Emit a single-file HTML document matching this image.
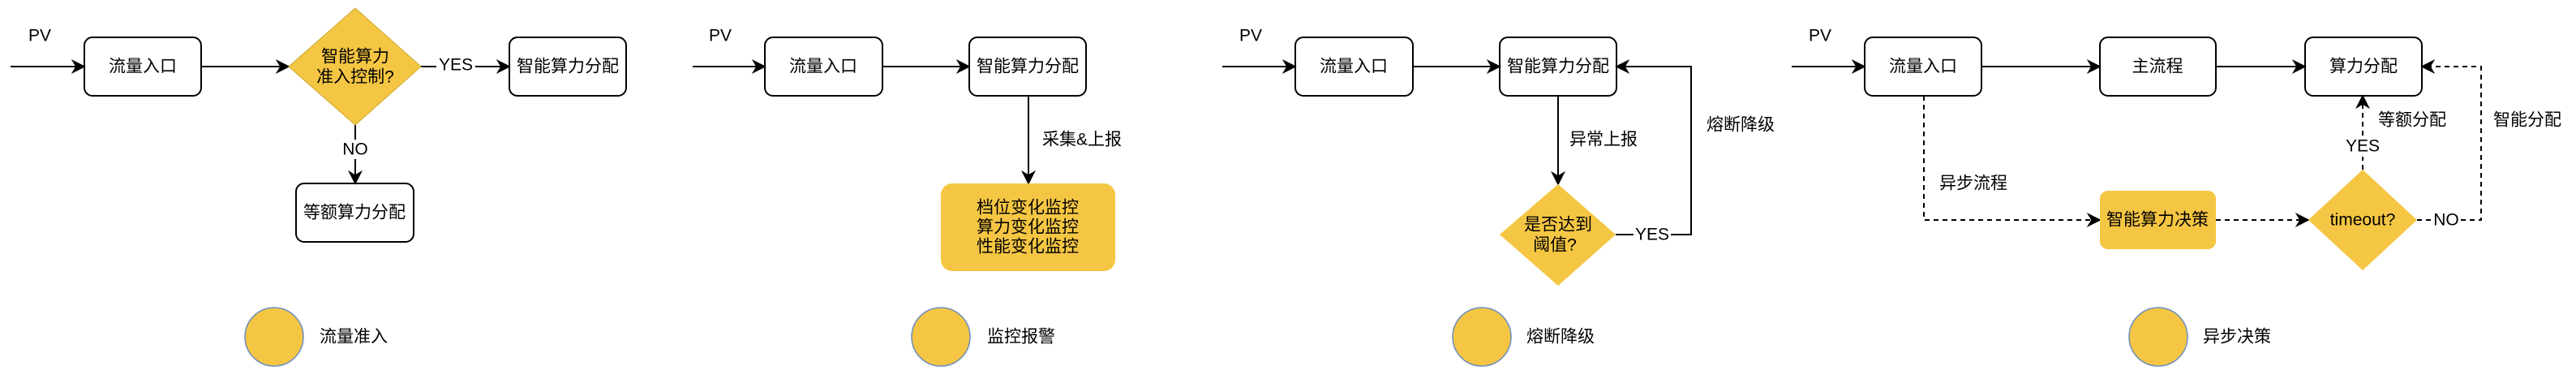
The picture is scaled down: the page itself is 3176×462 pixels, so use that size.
<!DOCTYPE html>
<html><head><meta charset="utf-8"><style>
html,body{margin:0;padding:0;background:#fff}
svg{display:block}
text{font-family:"Liberation Sans","Noto Sans CJK SC",sans-serif;font-size:21px;fill:#000}
</style></head><body>
<svg width="3176" height="462" viewBox="0 0 3176 462" xmlns="http://www.w3.org/2000/svg">
<defs>
<marker id="A" viewBox="0 0 10 10" refX="9" refY="5" markerWidth="18" markerHeight="18" markerUnits="userSpaceOnUse" orient="auto">
<path d="M0,0 L10,5 L0,10 L3,5 Z" fill="#000"/></marker>
</defs>
<g stroke="#000" stroke-width="2" fill="none">
<line x1="13" y1="82" x2="104" y2="82" marker-end="url(#A)"/>
<line x1="248" y1="82" x2="356" y2="82" marker-end="url(#A)"/>
<line x1="519" y1="82" x2="538" y2="82"/>
<line x1="586" y1="82" x2="628" y2="82" marker-end="url(#A)"/>
<line x1="438" y1="154" x2="438" y2="172"/>
<line x1="438" y1="196" x2="438" y2="226" marker-end="url(#A)"/>
<rect x="104" y="46" width="144" height="72" rx="10"/>
<rect x="628" y="46" width="144" height="72" rx="10"/>
<rect x="365" y="226" width="145" height="72" rx="10"/>
<line x1="854" y1="82" x2="943" y2="82" marker-end="url(#A)"/>
<line x1="1088" y1="82" x2="1195" y2="82" marker-end="url(#A)"/>
<line x1="1268" y1="118" x2="1268" y2="226" marker-end="url(#A)"/>
<rect x="943" y="46" width="145" height="72" rx="10"/>
<rect x="1195" y="46" width="144" height="72" rx="10"/>
<line x1="1507" y1="82" x2="1597" y2="82" marker-end="url(#A)"/>
<line x1="1742" y1="82" x2="1849" y2="82" marker-end="url(#A)"/>
<line x1="1921" y1="118" x2="1921" y2="227" marker-end="url(#A)"/>
<line x1="1992" y1="289" x2="2014" y2="289"/>
<polyline points="2060,289 2085,289 2085,82 1993,82" marker-end="url(#A)"/>
<rect x="1597" y="46" width="145" height="72" rx="10"/>
<rect x="1849" y="46" width="144" height="72" rx="10"/>
<line x1="2209" y1="82" x2="2299" y2="82" marker-end="url(#A)"/>
<line x1="2443" y1="82" x2="2589" y2="82" marker-end="url(#A)"/>
<line x1="2732" y1="82" x2="2842" y2="82" marker-end="url(#A)"/>
<rect x="2299" y="46" width="144" height="72" rx="10"/>
<rect x="2589" y="46" width="143" height="72" rx="10"/>
<rect x="2842" y="46" width="144" height="72" rx="10"/>
<g stroke-dasharray="6,5">
<polyline points="2372,118 2372,271 2589,271" marker-end="url(#A)"/>
<line x1="2732" y1="271" x2="2846" y2="271" marker-end="url(#A)"/>
<line x1="2913" y1="209" x2="2913" y2="193"/>
<line x1="2913" y1="167" x2="2913" y2="118" marker-end="url(#A)"/>
<line x1="2980" y1="271" x2="2998" y2="271"/>
<polyline points="3034,271 3059,271 3059,82 2986,82" marker-end="url(#A)"/>
</g>
</g>
<polygon points="438,10 519,82 438,154 356,82" fill="#f5c643" stroke="#c9a82a" stroke-width="1"/>
<rect x="1160" y="226" width="215" height="108" rx="14" fill="#f5c643"/>
<polygon points="1921,227 1992,289 1921,352 1849,289" fill="#f5c643"/>
<rect x="2589" y="235" width="143" height="72" rx="10" fill="#f5c643"/>
<polygon points="2913,209 2980,271 2913,333 2846,271" fill="#f5c643"/>
<g fill="#f5c643" stroke="#6c8ebf" stroke-width="1.5">
<ellipse cx="338" cy="415" rx="36" ry="36"/>
<ellipse cx="1160" cy="415" rx="36" ry="36"/>
<ellipse cx="1827" cy="415" rx="36" ry="36"/>
<ellipse cx="2661" cy="415" rx="36" ry="36"/>
</g>
<g text-anchor="middle" dominant-baseline="central">
<text x="176" y="82">流量入口</text>
<text x="438" y="70">智能算力</text>
<text x="438" y="95">准入控制?</text>
<text x="562" y="80">YES</text>
<text x="700" y="82">智能算力分配</text>
<text x="438" y="184">NO</text>
<text x="437" y="262">等额算力分配</text>
<text x="1015" y="82">流量入口</text>
<text x="1267" y="82">智能算力分配</text>
<text x="1267" y="256">档位变化监控</text>
<text x="1267" y="280">算力变化监控</text>
<text x="1267" y="304">性能变化监控</text>
<text x="1669" y="82">流量入口</text>
<text x="1921" y="82">智能算力分配</text>
<text x="1921" y="277">是否达到</text>
<text x="1917" y="302">阈值?</text>
<text x="2037" y="289">YES</text>
<text x="2371" y="82">流量入口</text>
<text x="2660" y="82">主流程</text>
<text x="2914" y="82">算力分配</text>
<text x="2660" y="271">智能算力决策</text>
<text x="2913" y="271">timeout?</text>
<text x="2913" y="180">YES</text>
<text x="3016" y="271">NO</text>
</g>
<g dominant-baseline="central">
<text x="35" y="44">PV</text>
<text x="874" y="44">PV</text>
<text x="1528" y="44">PV</text>
<text x="2230" y="44">PV</text>
<text x="1285" y="172">采集&amp;上报</text>
<text x="1935" y="172">异常上报</text>
<text x="2104" y="154">熔断降级</text>
<text x="2391" y="226">异步流程</text>
<text x="2932" y="148">等额分配</text>
<text x="3074" y="148">智能分配</text>
<text x="394" y="415">流量准入</text>
<text x="1217" y="415">监控报警</text>
<text x="1882" y="415">熔断降级</text>
<text x="2716" y="415">异步决策</text>
</g>
</svg>
</body></html>
